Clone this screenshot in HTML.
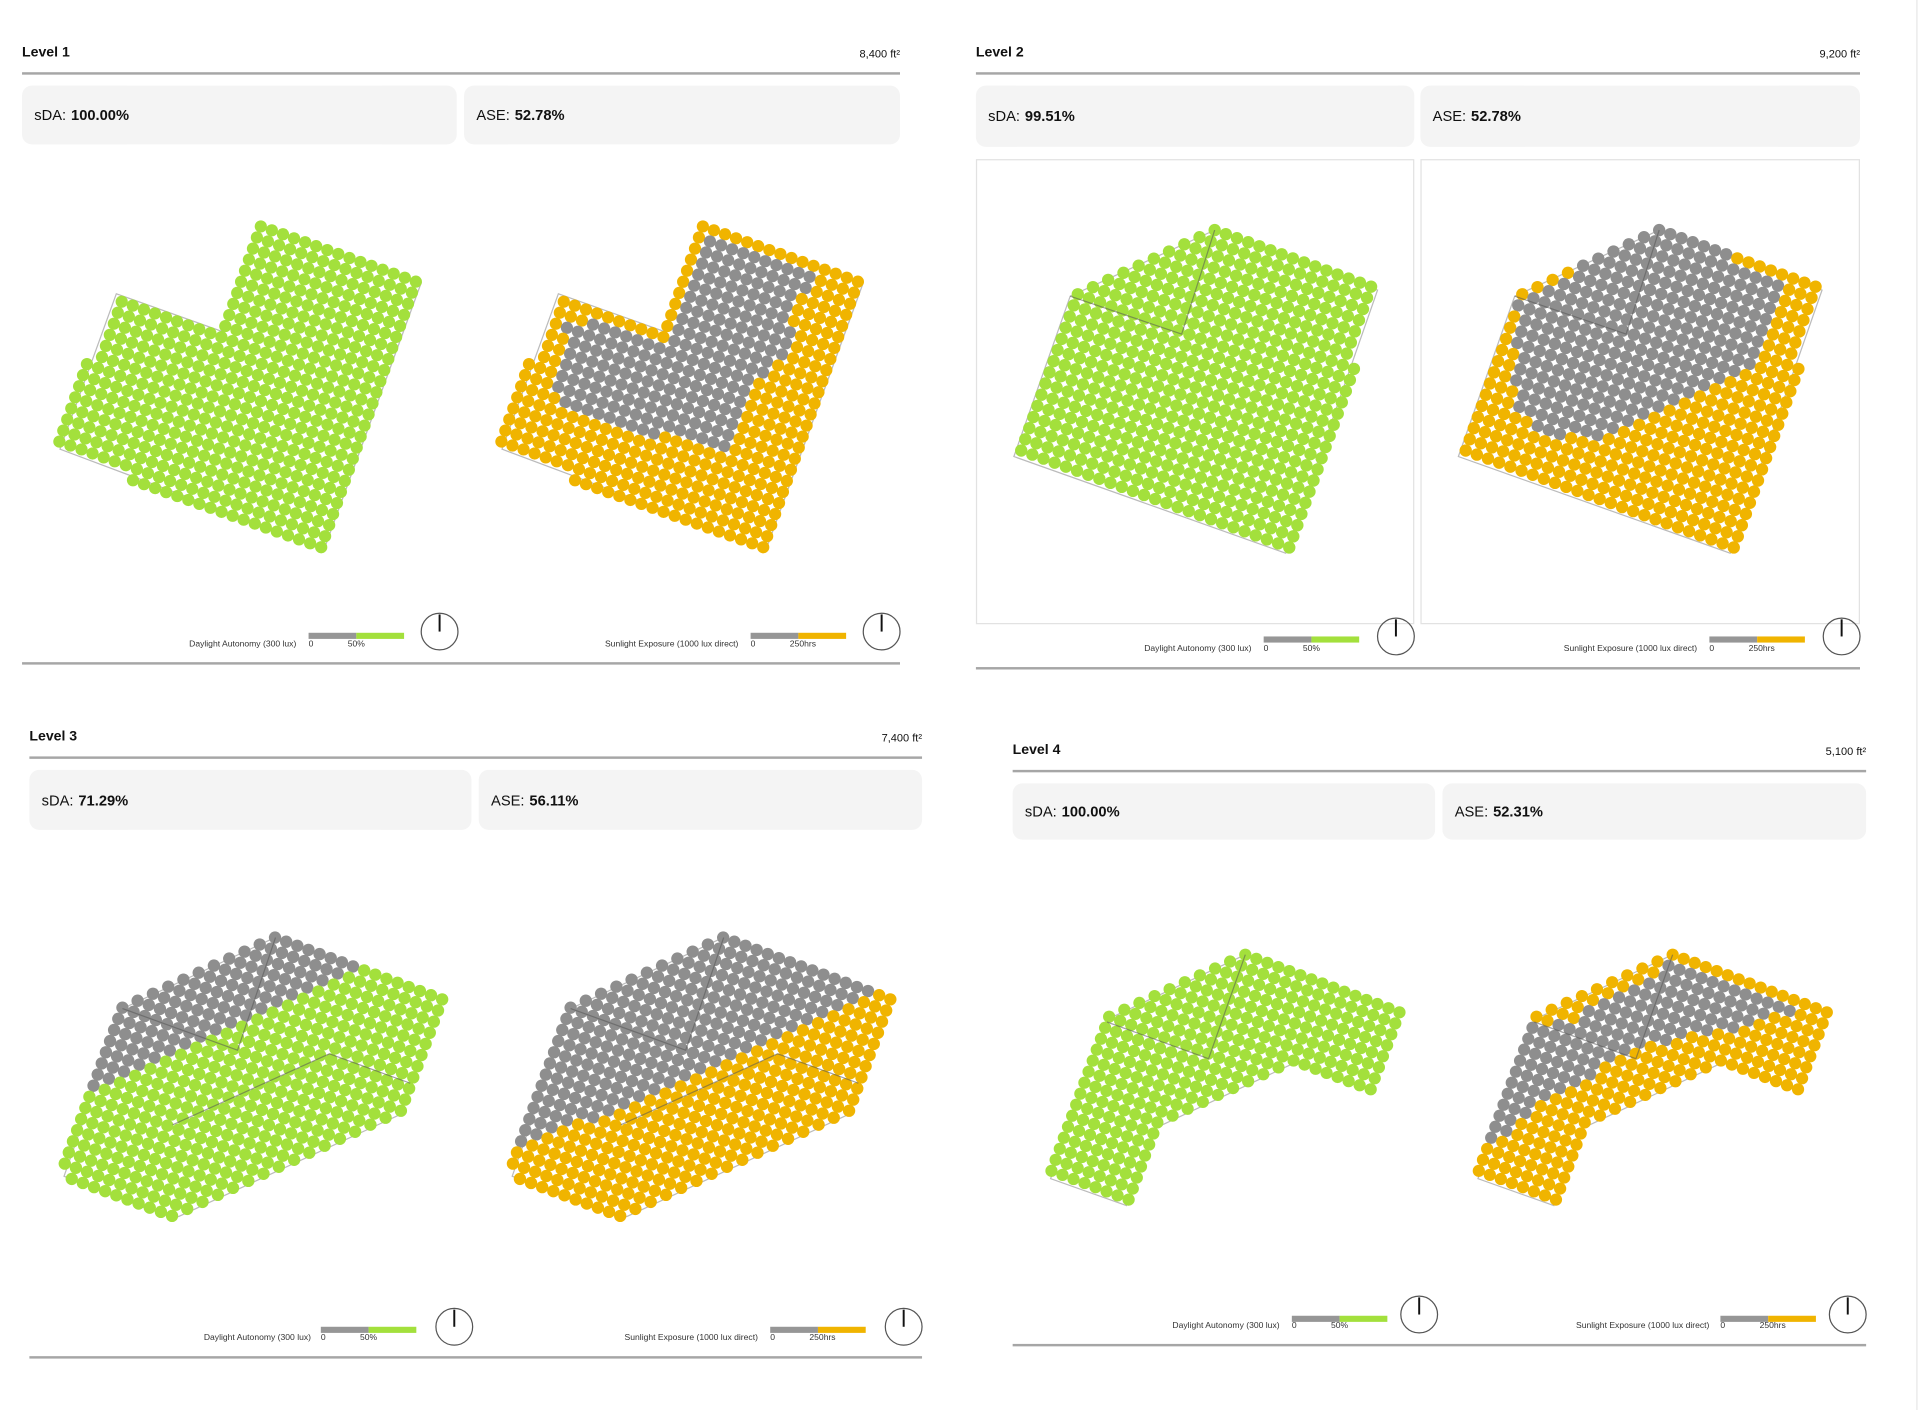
<!DOCTYPE html>
<html><head><meta charset="utf-8">
<style>
html,body{margin:0;padding:0;background:#fff;}
body{width:1920px;height:1410px;overflow:hidden;position:relative;font-family:"Liberation Sans",Arial,sans-serif;color:#111;}
#stage{position:absolute;left:0;top:0;width:1568px;height:1152px;transform:scale(1.22449,1.22396);transform-origin:0 0;}
.abs{position:absolute;}
.title{font-size:11.5px;font-weight:bold;}
.area{font-size:9px;text-align:right;}
.rule{height:2px;background:#a6a6a6;}
.box{background:#f4f4f4;border-radius:8px;font-size:12px;display:flex;align-items:center;padding-left:10px;box-sizing:border-box;}
.box b{margin-left:4px;}
.panel{border:1px solid #e2e2e2;box-sizing:border-box;}
svg{position:absolute;left:0;top:0;}
</style></head>
<body>
<div id="stage">
<div class="abs" style="left:1565px;top:0;width:1px;height:1152px;background:#e6e6e6"></div>
<div id="html-layer"></div>
<svg id="plot" width="1568" height="1152" viewBox="0 0 1568 1152"></svg>
</div>
<script>
// ---- data ----
const levelNames = ["Level 1","Level 2","Level 3","Level 4"];
const sdaValues = [100.00, 99.51, 71.29, 100.00];
const aseValues = [52.78, 52.78, 56.11, 52.31];
const areaLabels = ["8,400 ft²","9,200 ft²","7,400 ft²","5,100 ft²"];
const legendSdaTicks = ["0","50%"];
const legendAseTicks = ["0","250hrs"];

// ---- layout geometry (not data) ----
const L = [
 {x0:18,x1:735,ty:44,ly:59,by:70,bh:48,split:[373,379],leg:528,bar:517,comp:516,bot:541,legL:[242,252,359],legR:[603,613,720],panels:false},
 {x0:797,x1:1519,ty:44,ly:59,by:70,bh:50,split:[1155,1160],leg:532,bar:520,comp:520,bot:545,legL:[1022,1032,1140],legR:[1386,1396,1504],panels:true},
 {x0:24,x1:753,ty:603,ly:618,by:629,bh:49,split:[385,391],leg:1095,bar:1084,comp:1084,bot:1108,legL:[254,262,371],legR:[619,629,738],panels:false},
 {x0:827,x1:1524,ty:614,ly:629,by:640,bh:46,split:[1172,1178],leg:1085,bar:1075,comp:1074,bot:1098,legL:[1045,1055,1159],legR:[1396,1405,1509],panels:false}
];
const hl = document.getElementById('html-layer');
function div(cls, style, html, name){
  const d=document.createElement('div'); d.className='abs '+cls; d.style.cssText=style; d.innerHTML=html;
  
  
  hl.appendChild(d); return d;
}
const NS="http://www.w3.org/2000/svg";
const svg=document.getElementById('plot');
function el(tag, attrs, parent){
  const e=document.createElementNS(NS,tag);
  for(const k in attrs) e.setAttribute(k,attrs[k]);
  (parent||svg).appendChild(e); return e;
}
L.forEach((g,i)=>{
  div('title',`left:${g.x0}px;top:${g.ty-7}px;`,levelNames[i],'level-title');
  div('area',`left:${g.x1-120}px;width:120px;top:${g.ty-5}px;`,areaLabels[i],'floor-area');
  div('rule',`left:${g.x0}px;width:${g.x1-g.x0}px;top:${g.ly}px;`,'','header-rule');
  div('box',`left:${g.x0}px;top:${g.by}px;width:${g.split[0]-g.x0}px;height:${g.bh}px;`,'sDA: <b>'+sdaValues[i].toFixed(2)+'%</b>','sda-box');
  div('box',`left:${g.split[1]}px;top:${g.by}px;width:${g.x1-g.split[1]}px;height:${g.bh}px;`,'ASE: <b>'+aseValues[i].toFixed(2)+'%</b>','ase-box');
  div('rule',`left:${g.x0}px;width:${g.x1-g.x0}px;top:${g.bot}px;height:1.5px;`,'','footer-rule');
  if(g.panels){
    div('panel',`left:${g.x0}px;top:130px;width:${g.split[0]-g.x0}px;height:380px;`,'','sda-panel');
    div('panel',`left:${g.split[1]}px;top:130px;width:${g.x1-g.split[1]}px;height:380px;`,'','ase-panel');
  }
  [[g.legL,'Daylight Autonomy (300 lux)',legendSdaTicks,'#a3e03c','sda-legend'],[g.legR,'Sunlight Exposure (1000 lux direct)',legendAseTicks,'#f0b400','ase-legend']].forEach(([p,lab,ticks,col,nm])=>{
    div('',`left:${p[0]-200}px;width:200px;text-align:right;top:${g.leg-5}px;font-size:7px;color:#333;`,lab,nm+'-label');
    div('',`left:${p[1]}px;top:${g.bar}px;width:39px;height:5px;background:#969696;`,'',nm+'-bar-low');
    div('',`left:${p[1]+39}px;top:${g.bar}px;width:39px;height:5px;background:${col};`,'',nm+'-bar-high');
    div('',`left:${p[1]}px;top:${g.leg-5}px;font-size:7px;color:#333;`,ticks[0],nm+'-tick');
    div('',`left:${p[1]+32}px;top:${g.leg-5}px;font-size:7px;color:#333;`,ticks[1],nm+'-tick');
    const c=el('circle',{cx:p[2],cy:g.comp,r:15,fill:'none',stroke:'#555','stroke-width':1});
    
    
    const ln=el('line',{x1:p[2],y1:g.comp-14,x2:p[2],y2:g.comp,stroke:'#111','stroke-width':1.6});
    
    
  });
});

// ---- plan shapes ----
const plans = [
 {poly:[[213,185],[344,231],[265,448],[49,367],[95,240],[182,271]], off:361, ang:19.6, p:9.6,
  gray:[[581,189],[672,220],[653,242],[640,294],[618,308],[607,338],[596,376],[585,368],[487,343],[465,335],[455,316],[463,259],[542,280]], inner:[]},
 {poly:[[992,188],[1125,237],[1050,452],[828,373],[874,242]], off:363, ang:19.9, p:9.7,
  gray:[[1355,186],[1458,227],[1430,300],[1310,356],[1265,357],[1236,332],[1240,243]], inner:[[[874,242],[965,273],[992,188]]]},
 {poly:[[224.6,766],[361.4,816.6],[332,895],[325.9,911],[145.8,994],[118.4,987],[52.3,961],[100.2,824]], off:366, ang:20.3, p:9.7,
  sdaLine:[[75,892],[289,793]], aseLine:[[424,940],[709,813]], inner:[[[100,824],[194,858],[225,766]],[[141,919],[269,861],[335,885]]]},
 {poly:[[1017,780],[1143,827],[1119,891],[1058,868],[943,922],[920,985],[858,963],[904,833]], off:349, ang:20.5, p:9.6,
  gray:[[1362,783],[1474,823],[1412,842],[1339,854],[1298,880],[1253,902],[1234,927],[1216,935],[1243,834],[1280,835],[1316,813],[1357,792]], inner:[[[904,835],[987,865],[1017,780]]]}
];
function inside(pt,poly){
  let c=false;
  for(let i=0,j=poly.length-1;i<poly.length;j=i++){
    const [xi,yi]=poly[i],[xj,yj]=poly[j];
    if(((yi>pt[1])!=(yj>pt[1])) && (pt[0] < (xj-xi)*(pt[1]-yi)/(yj-yi)+xi)) c=!c;
  }
  return c;
}
function edgeDist(pt,poly){
  let m=1e9;
  for(let i=0,j=poly.length-1;i<poly.length;j=i++){
    const [ax,ay]=poly[j],[bx,by]=poly[i];
    const dx=bx-ax,dy=by-ay; let t=((pt[0]-ax)*dx+(pt[1]-ay)*dy)/(dx*dx+dy*dy);
    t=Math.max(0,Math.min(1,t));
    const d=Math.hypot(pt[0]-ax-t*dx,pt[1]-ay-t*dy); if(d<m)m=d;
  }
  return m;
}
function above(pt,line){
  const [[x1,y1],[x2,y2]]=line;
  const y=y1+(y2-y1)*(pt[0]-x1)/(x2-x1);
  return pt[1]<y;
}
const GREEN='#a3e03c', ORANGE='#f0b400', GRAY='#8e8e8e';
plans.forEach((pl,k)=>{
  const a=pl.ang*Math.PI/180, ux=Math.cos(a), uy=Math.sin(a), vx=-Math.sin(a), vy=Math.cos(a);
  const o=pl.poly[0];
  [0,1].forEach(side=>{
    const dx=side?pl.off:0;
    const poly=pl.poly.map(q=>[q[0]+dx,q[1]]);
    const gPlan=el('g',{});
    
    
    el('polygon',{points:poly.map(q=>q.join(',')).join(' '),fill:'none',stroke:'#bbb','stroke-width':1},gPlan);
    for(let i=-70;i<70;i++){
      for(let j=-70;j<70;j++){
        const x=o[0]+dx+i*pl.p*ux+j*pl.p*vx;
        const y=o[1]+i*pl.p*uy+j*pl.p*vy;
        if(!inside([x,y],poly) && edgeDist([x,y],poly)>3) continue;
        let col;
        if(side===0){
          col = (pl.sdaLine && above([x,y],pl.sdaLine)) ? GRAY : GREEN;
        } else {
          if(pl.aseLine) col = above([x,y],pl.aseLine)?GRAY:ORANGE;
          else col = inside([x,y],pl.gray)?GRAY:ORANGE;
        }
        const c=el('circle',{cx:x.toFixed(1),cy:y.toFixed(1),r:(pl.p*0.52).toFixed(2),fill:col},gPlan);
        
        
      }
    }
    pl.inner.forEach(line=>{
      el('polyline',{points:line.map(q=>(q[0]+dx)+','+q[1]).join(' '),fill:'none',stroke:'#555','stroke-opacity':0.55,'stroke-width':1},gPlan);
    });
  });
});
</script>
</body></html>
